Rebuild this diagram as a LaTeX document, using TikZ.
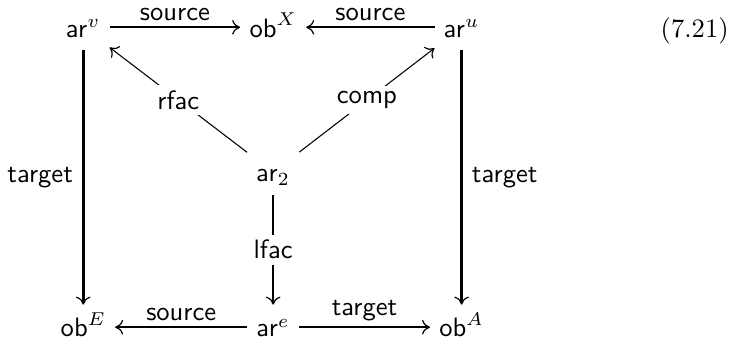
\documentclass[tikz,border=0pt]{standalone}
\usepackage{amsmath}
\usepackage{amssymb}
\usetikzlibrary{arrows.meta}

\begin{document}
\begin{tikzpicture}[
    >={To[length=3pt,width=5.5pt,line width=0.45pt]},
    obj/.style={inner sep=3.33pt, text height=2ex, text depth=.3ex},
    lbl/.style={font=\sffamily, inner sep=2pt},
    gap/.style={lbl, fill=white},
    arr/.style={->, line width=0.75pt},
    fat/.style={->, line width=1.15pt},
    slim/.style={->, line width=0.4pt}
  ]
    \useasboundingbox (0,0) rectangle (9.70,-4.545);
    \begin{scope}
      \node[obj] (arv) at (1.10,-0.361) {$\mathsf{ar}^v$};
      \node[obj] (obX) at (3.61,-0.361) {$\mathsf{ob}^X$};
      \node[obj] (aru) at (6.10,-0.361) {$\mathsf{ar}^u$};
      \node[obj] (ar2) at (3.61,-2.276) {$\mathsf{ar}_2$};
      \node[obj] (obE) at (1.10,-4.324) {$\mathsf{ob}^E$};
      \node[obj] (are) at (3.61,-4.324) {$\mathsf{ar}^e$};
      \node[obj] (obA) at (6.10,-4.324) {$\mathsf{ob}^A$};
      \node[obj] (eqno) at (9.18,-0.361) {(7.21)};
    \end{scope}
    \draw[arr] (arv) -- node[lbl,above] {source} (obX);
    \draw[arr] (aru) -- node[lbl,above] {source} (obX);
    \draw[slim] (ar2) -- node[gap] {rfac} (arv);
    \draw[slim] (ar2) -- node[gap] {comp} (aru);
    \draw[arr] (ar2) -- node[gap] {lfac} (are);
    \draw[fat] (arv) -- node[lbl,left,inner sep=3.33pt] {target} (obE);
    \draw[fat] (aru) -- node[lbl,right,inner sep=3.33pt] {target} (obA);
    \draw[arr] (are) -- node[lbl,above] {source} (obE);
    \draw[arr] (are) -- node[lbl,above] {target} (obA);
  \end{tikzpicture}
\end{document}
